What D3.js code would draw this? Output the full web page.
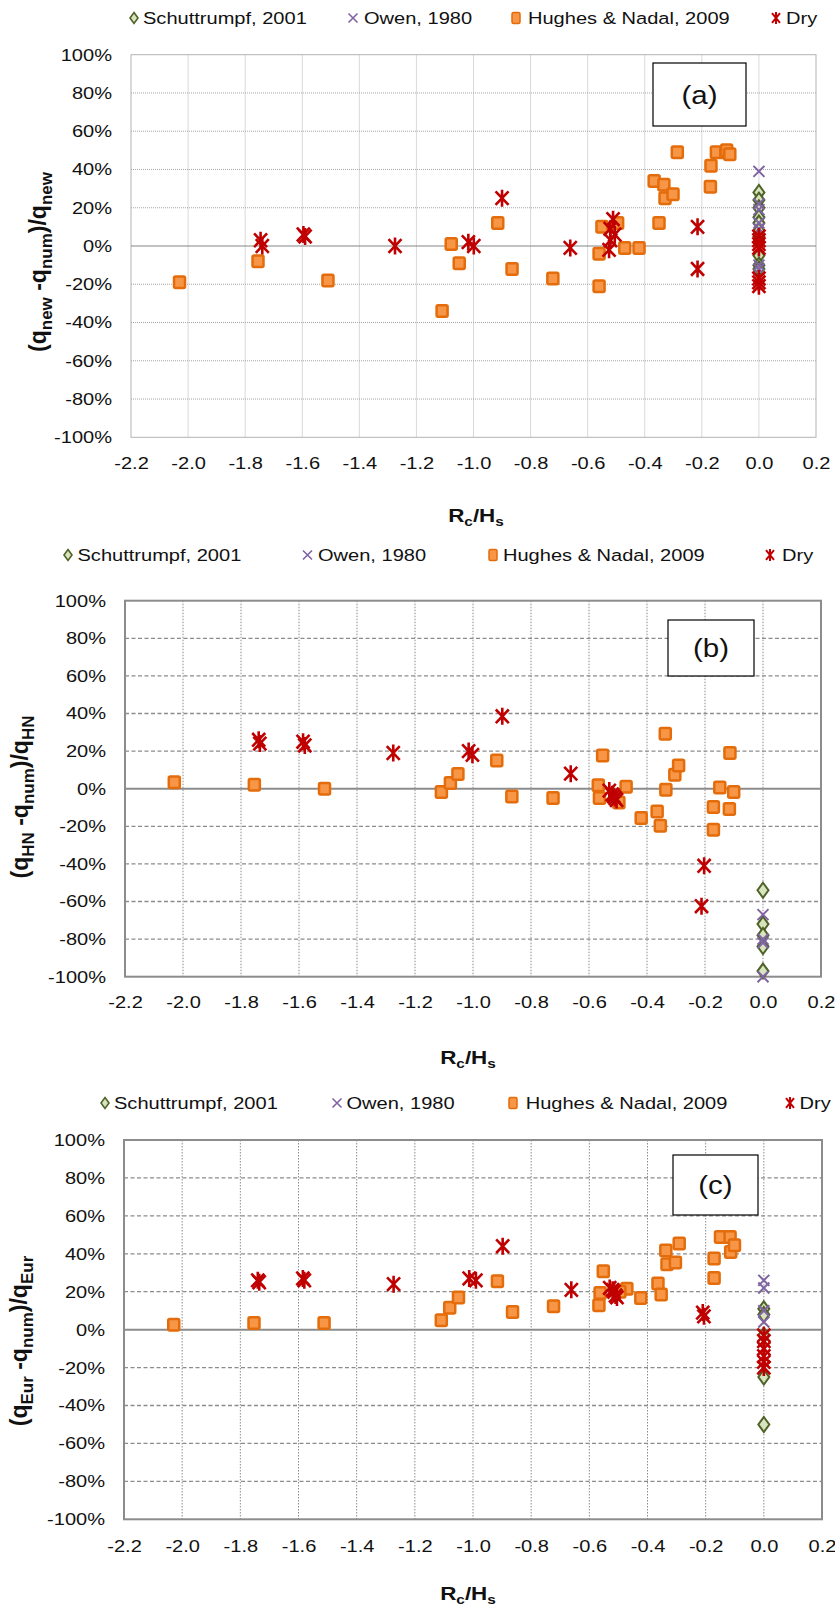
<!DOCTYPE html>
<html>
<head>
<meta charset="utf-8">
<script src="https://cdn.jsdelivr.net/npm/d3@7"></script>
<style>
  body { margin: 0; background: #fff; }
  text { font-family: "Liberation Sans", Arial, sans-serif; fill: #111; }
</style>
</head>
<body>
<svg id="fig" width="835" height="1607"></svg>
<script>
// ---------- shared axis values ----------
const xTicks = [-2.2, -2.0, -1.8, -1.6, -1.4, -1.2, -1.0, -0.8, -0.6, -0.4, -0.2, 0.0, 0.2];
const yTicks = [-1, -0.8, -0.6, -0.4, -0.2, 0, 0.2, 0.4, 0.6, 0.8, 1];
const seriesNames = ["Schuttrumpf, 2001", "Owen, 1980", "Hughes & Nadal, 2009", "Dry"];

// ---------- panel (a): (q_new - q_num)/q_new ----------
const schX_a = [0, 0, 0, 0, 0, 0, 0, 0, 0, 0, 0];
const schY_a = [0.28, 0.24, 0.20, 0.15, 0.12, 0.08, 0.05, 0.02, -0.05, -0.10, -0.12];
const owenX_a = [0, 0, 0, 0, 0, 0, 0];
const owenY_a = [0.39, 0.22, 0.19, 0.12, 0.09, -0.10, -0.12];
const hughesX_a = [-2.03, -1.755, -1.51, -1.11, -1.078, -1.05, -0.915, -0.865, -0.722, -0.56, -0.56, -0.55, -0.495, -0.47, -0.42, -0.367, -0.35, -0.333, -0.329, -0.301, -0.286, -0.170, -0.168, -0.149, -0.116, -0.113, -0.102];
const hughesY_a = [-0.19, -0.08, -0.18, -0.34, 0.01, -0.09, 0.12, -0.12, -0.17, -0.21, -0.04, 0.10, 0.12, -0.01, -0.01, 0.34, 0.12, 0.32, 0.25, 0.27, 0.49, 0.31, 0.42, 0.49, 0.49, 0.50, 0.48];
const dryX_a = [-1.746, -1.74, -1.596, -1.59, -1.275, -1.018, -0.999, -0.900, -0.661, -0.511, -0.521, -0.505, -0.52, -0.525, -0.215, -0.215, 0, 0, 0, 0, 0, 0, 0];
const dryY_a = [0.03, 0.0, 0.06, 0.05, 0.0, 0.02, 0.0, 0.25, -0.01, 0.14, 0.09, 0.06, 0.03, -0.02, 0.10, -0.12, 0.05, 0.03, 0.01, -0.01, -0.17, -0.19, -0.21];

// ---------- panel (b): (q_HN - q_num)/q_HN ----------
const schX_b = [0, 0, 0, 0, 0];
const schY_b = [-0.54, -0.72, -0.78, -0.84, -0.97];
const owenX_b = [0, 0, 0, 0];
const owenY_b = [-0.67, -0.80, -0.82, -1.00];
const hughesX_b = [-2.03, -1.754, -1.512, -1.109, -1.078, -1.052, -0.918, -0.866, -0.724, -0.553, -0.568, -0.564, -0.472, -0.497, -0.42, -0.365, -0.354, -0.337, -0.335, -0.304, -0.291, -0.171, -0.171, -0.149, -0.116, -0.114, -0.101];
const hughesY_b = [0.034, 0.021, 0.0, -0.018, 0.03, 0.078, 0.15, -0.041, -0.05, 0.177, 0.018, -0.05, 0.01, -0.073, -0.156, -0.121, -0.197, 0.292, -0.006, 0.074, 0.124, -0.098, -0.218, 0.007, -0.108, 0.19, -0.018];
const dryX_b = [-1.739, -1.735, -1.586, -1.58, -1.275, -1.015, -1.002, -0.899, -0.663, -0.53, -0.52, -0.515, -0.51, -0.505, -0.203, -0.212];
const dryY_b = [0.26, 0.24, 0.25, 0.23, 0.19, 0.20, 0.18, 0.385, 0.08, -0.01, -0.03, -0.04, -0.05, -0.06, -0.41, -0.625];

// ---------- panel (c): (q_Eur - q_num)/q_Eur ----------
const schX_c = [0, 0, 0, 0, 0];
const schY_c = [0.11, 0.08, -0.03, -0.25, -0.50];
const owenX_c = [0, 0, 0, 0, 0];
const owenY_c = [0.26, 0.22, 0.10, 0.04, -0.20];
const hughesX_c = [-2.029, -1.753, -1.512, -1.109, -1.080, -1.050, -0.916, -0.864, -0.723, -0.552, -0.567, -0.563, -0.471, -0.495, -0.423, -0.364, -0.353, -0.337, -0.333, -0.304, -0.291, -0.171, -0.171, -0.149, -0.116, -0.114, -0.101];
const hughesY_c = [0.026, 0.035, 0.035, 0.049, 0.116, 0.169, 0.255, 0.093, 0.123, 0.308, 0.128, 0.193, 0.216, 0.20, 0.167, 0.243, 0.186, 0.418, 0.345, 0.354, 0.454, 0.375, 0.272, 0.489, 0.489, 0.41, 0.445];
const dryX_c = [-1.74, -1.735, -1.585, -1.58, -1.273, -1.013, -0.99, -0.898, -0.662, -0.53, -0.52, -0.515, -0.51, -0.505, -0.206, -0.21, 0, 0, 0, 0, 0, 0];
const dryY_c = [0.26, 0.25, 0.27, 0.26, 0.24, 0.27, 0.26, 0.44, 0.21, 0.22, 0.21, 0.20, 0.18, 0.17, 0.07, 0.09, -0.03, -0.06, -0.10, -0.14, -0.17, -0.20];

// ---------- drawing ----------
const svg = d3.select("#fig");
const SX = 1.18;           // horizontal text stretch
const locale = d3.formatLocale({ decimal: ".", thousands: ",", grouping: [3], currency: ["", ""], minus: "-", percent: "%" });
const fmtPct = locale.format(".0%");
const fmtX = locale.format(".1f");

const colors = {
  schStroke: "#4f6228", schFill: "#d7e4bd",
  owen: "#8064a2",
  hnStroke: "#e46c0a", hnFill: "#f79646",
  dry: "#c00000"
};

function zip(xs, ys) { return xs.map((v, i) => ({ x: v, y: ys[i] })); }

// marker painters: g is a <g> already translated to the point
function drawDiamond(g, w, h, sw) {
  g.append("path").attr("d", `M0,${-h}L${w},0L0,${h}L${-w},0Z`)
    .attr("fill", colors.schFill).attr("stroke", colors.schStroke).attr("stroke-width", sw);
}
function drawCross(g, s, sw) {
  g.append("path").attr("d", `M${-s},${-s}L${s},${s}M${-s},${s}L${s},${-s}`)
    .attr("fill", "none").attr("stroke", colors.owen).attr("stroke-width", sw);
}
function drawSquare(g, w, h, sw) {
  g.append("rect").attr("x", -w / 2).attr("y", -h / 2).attr("width", w).attr("height", h)
    .attr("rx", 1.5).attr("fill", colors.hnFill).attr("stroke", colors.hnStroke).attr("stroke-width", sw);
}
function drawStar(g, w, h, sw) {
  g.append("path").attr("d", `M${-w},${-h * 0.8}L${w},${h * 0.8}M${-w},${h * 0.8}L${w},${-h * 0.8}M0,${-h}L0,${h}`)
    .attr("fill", "none").attr("stroke", colors.dry).attr("stroke-width", sw);
}

function stretchedText(parent, x, y, str, size, anchor, weight) {
  return parent.append("text")
    .attr("transform", `translate(${x},${y}) scale(${SX},1)`)
    .attr("text-anchor", anchor || "start")
    .attr("font-size", size)
    .attr("font-weight", weight || "normal")
    .text(str);
}

function stretchAxisText(axisG) {
  axisG.selectAll("text").each(function () {
    const t = d3.select(this);
    const xx = +t.attr("x") || 0;
    t.attr("x", 0).attr("transform", `translate(${xx},0) scale(${SX},1)`);
  });
}

function drawPanel(cfg) {
  const g = svg.append("g");
  const x = d3.scaleLinear().domain([-2.2, 0.2]).range([cfg.left, cfg.right]);
  const y = d3.scaleLinear().domain([-1, 1]).range([cfg.bottom, cfg.top]);

  // vertical gridlines
  g.append("g").selectAll("line").data(xTicks.slice(1, -1)).join("line")
    .attr("x1", d => x(d)).attr("x2", d => x(d))
    .attr("y1", cfg.top).attr("y2", cfg.bottom)
    .attr("stroke", cfg.vGrid.color).attr("stroke-width", cfg.vGrid.width)
    .attr("stroke-dasharray", cfg.vGrid.dash);

  // horizontal gridlines (zero line drawn separately)
  g.append("g").selectAll("line").data(yTicks.filter(d => d !== 0 && d !== 1 && d !== -1)).join("line")
    .attr("x1", cfg.left).attr("x2", cfg.right)
    .attr("y1", d => y(d)).attr("y2", d => y(d))
    .attr("stroke", cfg.hGrid.color).attr("stroke-width", cfg.hGrid.width)
    .attr("stroke-dasharray", cfg.hGrid.dash);

  // plot border
  g.append("rect").attr("x", cfg.left).attr("y", cfg.top)
    .attr("width", cfg.right - cfg.left).attr("height", cfg.bottom - cfg.top)
    .attr("fill", "none").attr("stroke", cfg.border.color).attr("stroke-width", cfg.border.width);

  // zero line
  g.append("line").attr("x1", cfg.left).attr("x2", cfg.right)
    .attr("y1", y(0)).attr("y2", y(0))
    .attr("stroke", cfg.zero.color).attr("stroke-width", cfg.zero.width);

  // axes (labels only)
  const ya = g.append("g").attr("transform", `translate(${cfg.left},0)`)
    .call(d3.axisLeft(y).tickValues(yTicks).tickFormat(fmtPct).tickSize(0).tickPadding(19));
  ya.select(".domain").remove();
  ya.selectAll("text").attr("font-size", 17).attr("font-family", "Liberation Sans, Arial, sans-serif").attr("fill", "#111");
  stretchAxisText(ya);

  const xa = g.append("g").attr("transform", `translate(0,${cfg.bottom})`)
    .call(d3.axisBottom(x).tickValues(xTicks).tickFormat(fmtX).tickSize(0).tickPadding(cfg.xPad));
  xa.select(".domain").remove();
  xa.selectAll("text").attr("font-size", 17).attr("font-family", "Liberation Sans, Arial, sans-serif").attr("fill", "#111");
  stretchAxisText(xa);

  // series
  const mk = g.append("g");
  zip(cfg.sch[0], cfg.sch[1]).forEach(p => drawDiamond(mk.append("g").attr("transform", `translate(${x(p.x)},${y(p.y)})`), 5.5, 7.5, 2));
  zip(cfg.owen[0], cfg.owen[1]).forEach(p => drawCross(mk.append("g").attr("transform", `translate(${x(p.x)},${y(p.y)})`), 5.5, 2));
  zip(cfg.hn[0], cfg.hn[1]).forEach(p => drawSquare(mk.append("g").attr("transform", `translate(${x(p.x)},${y(p.y)})`), 11, 11.5, 2.5));
  zip(cfg.dry[0], cfg.dry[1]).forEach(p => drawStar(mk.append("g").attr("transform", `translate(${x(p.x)},${y(p.y)})`), 6.5, 8.5, 2.6));

  // panel tag box
  const b = cfg.tag;
  g.append("rect").attr("x", b.x).attr("y", b.y).attr("width", b.w).attr("height", b.h)
    .attr("fill", "#fff").attr("stroke", "#000").attr("stroke-width", 1.2);
  stretchedText(g, b.x + b.w / 2, b.y + b.h / 2 + 9, b.text, 25, "middle");

  // legend
  const L = cfg.legend;
  const lg = g.append("g");
  drawDiamond(lg.append("g").attr("transform", `translate(${L.mx[0]},${L.y})`), 4, 5.5, 1.6);
  drawCross(lg.append("g").attr("transform", `translate(${L.mx[1]},${L.y})`), 4.5, 1.6);
  drawSquare(lg.append("g").attr("transform", `translate(${L.mx[2]},${L.y})`), 8, 11, 1.5);
  drawStar(lg.append("g").attr("transform", `translate(${L.mx[3]},${L.y})`), 4, 6, 2);
  seriesNames.forEach((n, i) => stretchedText(lg, L.tx[i], L.y + 6, n, 17, "start"));

  // x title R_c/H_s
  const xt = g.append("text")
    .attr("transform", `translate(${cfg.xTitle[0]},${cfg.xTitle[1]}) scale(${SX},1)`)
    .attr("text-anchor", "middle").attr("font-weight", "bold").attr("font-size", 19);
  xt.append("tspan").text("R");
  xt.append("tspan").attr("font-size", 13).attr("dy", 4).text("c");
  xt.append("tspan").attr("dy", -4).text("/H");
  xt.append("tspan").attr("font-size", 13).attr("dy", 4).text("s");

  // y title
  const yt = g.append("text")
    .attr("transform", `translate(${cfg.yTitle[0]},${cfg.yTitle[1]}) rotate(-90)`)
    .attr("text-anchor", "middle").attr("font-weight", "bold").attr("font-size", 23);
  const sub = cfg.ySub;
  yt.append("tspan").text("(q");
  yt.append("tspan").attr("font-size", 17).attr("dy", 5.5).text(sub);
  yt.append("tspan").attr("dy", -5.5).text(" -q");
  yt.append("tspan").attr("font-size", 17).attr("dy", 5.5).text("num");
  yt.append("tspan").attr("dy", -5.5).text(")/q");
  yt.append("tspan").attr("font-size", 17).attr("dy", 5.5).text(sub);
}

const excelLight = {
  vGrid: { color: "#d9d9d9", width: 1, dash: null },
  hGrid: { color: "#a6a6a6", width: 1, dash: "1,1" },
  border: { color: "#b3b3b3", width: 1 },
  zero: { color: "#868686", width: 1.2 }
};
const excelDashed = {
  vGrid: { color: "#8c8c8c", width: 1, dash: "1.5,1.5" },
  hGrid: { color: "#8c8c8c", width: 1.3, dash: "4,2.5" },
  border: { color: "#8c8c8c", width: 2 },
  zero: { color: "#8c8c8c", width: 2 }
};

drawPanel(Object.assign({
  left: 131, right: 816, top: 54.7, bottom: 437.3, xPad: 20,
  sch: [schX_a, schY_a], owen: [owenX_a, owenY_a], hn: [hughesX_a, hughesY_a], dry: [dryX_a, dryY_a],
  tag: { x: 653, y: 63, w: 93, h: 63, text: "(a)" },
  legend: { y: 18, mx: [134, 353, 516, 776], tx: [143, 364, 528, 786] },
  xTitle: [476, 522], yTitle: [46, 262], ySub: "new"
}, excelLight));

drawPanel(Object.assign({
  left: 125, right: 821, top: 600.7, bottom: 976.7, xPad: 19,
  sch: [schX_b, schY_b], owen: [owenX_b, owenY_b], hn: [hughesX_b, hughesY_b], dry: [dryX_b, dryY_b],
  tag: { x: 668, y: 620, w: 86, h: 56, text: "(b)" },
  legend: { y: 555, mx: [68, 307.5, 493, 770], tx: [77.5, 318, 503, 782] },
  xTitle: [468, 1064], yTitle: [28, 797], ySub: "HN"
}, excelDashed));

drawPanel(Object.assign({
  left: 124, right: 822, top: 1140, bottom: 1519.3, xPad: 21,
  sch: [schX_c, schY_c], owen: [owenX_c, owenY_c], hn: [hughesX_c, hughesY_c], dry: [dryX_c, dryY_c],
  tag: { x: 673, y: 1155, w: 85, h: 60, text: "(c)" },
  legend: { y: 1103, mx: [105, 337, 513, 790], tx: [114, 346.5, 525.7, 799.5] },
  xTitle: [468, 1600], yTitle: [27, 1341], ySub: "Eur"
}, excelDashed));
</script>
</body>
</html>
